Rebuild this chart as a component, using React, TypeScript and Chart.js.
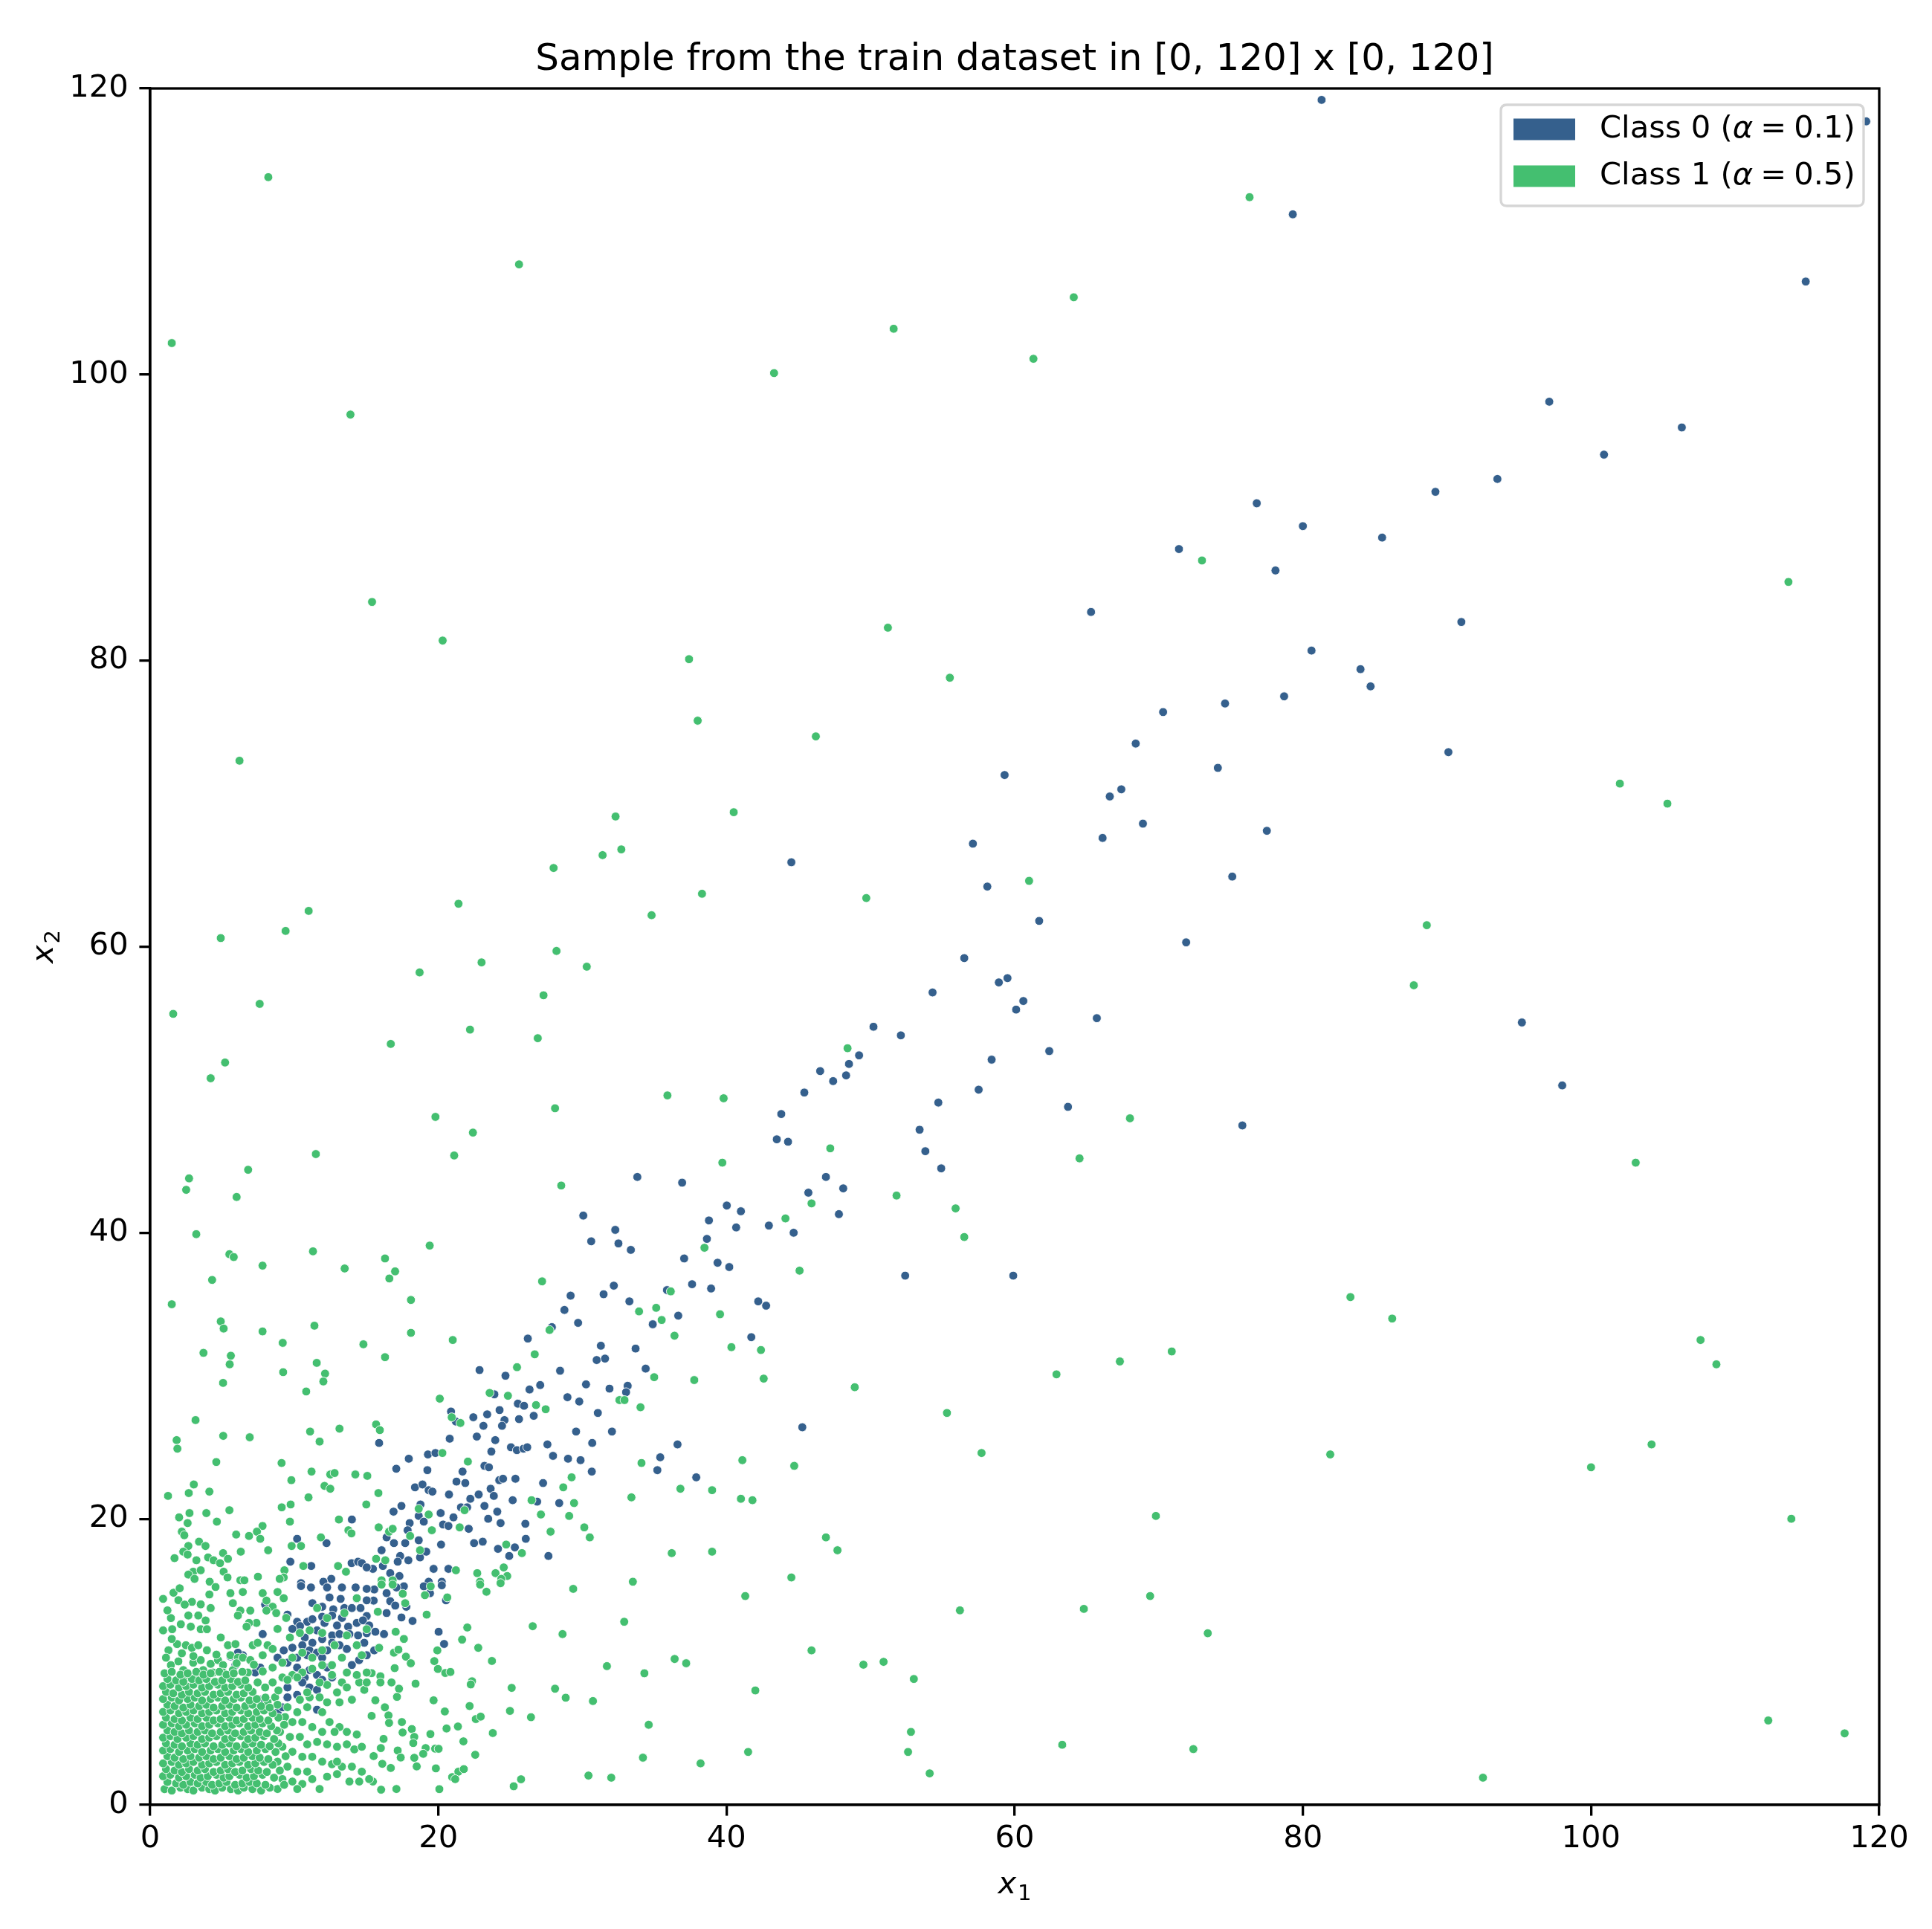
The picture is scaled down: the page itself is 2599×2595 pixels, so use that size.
import React, { useEffect, useRef } from 'react';
import { Chart, registerables } from 'chart.js';

Chart.register(...registerables);

// ---------- chart texts ----------
const chartTitle = 'Sample from the train dataset in [0, 120] x [0, 120]';
const classLabels = ['Class 0', 'Class 1'];
const classAlphas = ['0.1', '0.5'];
const classColors = ['#35608d', '#44bf70'];
const xTickValues = [0, 20, 40, 60, 80, 100, 120];
const yTickValues = [0, 20, 40, 60, 80, 100, 120];

// ---------- Class 0 points [x1, x2] ----------
const class0Upper: number[][] = [
  [81.3,119.2],[119.1,117.7],[79.3,111.2],[114.9,106.5],[97.1,98.1],[106.3,96.3],[100.9,94.4],[93.5,92.7],
  [89.2,91.8],[76.8,91.0],[80.0,89.4],[85.5,88.6],[71.4,87.8],[78.1,86.3],[65.3,83.4],[91.0,82.7],[80.6,80.7],
  [84.0,79.4],[84.7,78.2],[78.7,77.5],[74.6,77.0],[70.3,76.4],[68.4,74.2],[90.1,73.6],[59.3,72.0],[74.1,72.5],
  [67.4,71.0],[66.6,70.5],[77.5,68.1],[68.9,68.6],[66.1,67.6],[57.1,67.2],[44.5,65.9],[75.1,64.9],[58.1,64.2],
  [61.7,61.8],[71.9,60.3],[56.5,59.2],[58.9,57.5],[59.5,57.8],[60.6,56.2],[60.1,55.6],[54.3,56.8],[95.2,54.7],
  [65.7,55.0],[50.2,54.4],[52.1,53.8],[62.4,52.7],[58.4,52.1],[49.2,52.4],[48.5,51.8],[46.5,51.3],[48.3,51.0],
  [47.4,50.6],[98.0,50.3],[57.5,50.0],[45.4,49.8],[54.7,49.1],[63.7,48.8],[75.8,47.5],[53.4,47.2],[53.8,45.7],
  [54.9,44.5],[43.8,48.3],[46.9,43.9],[48.1,43.1],[47.8,41.3],[52.4,37.0],[59.9,37.0],[35.4,24.3],[35.2,23.4],
  [37.9,22.9],[36.6,25.2],
];
const class0Mid: number[][] = [
  [43.49,46.53],[44.27,46.36],[33.81,43.9],[36.92,43.5],[45.68,42.8],[30.06,41.2],[40.02,41.9],[41.0,41.5],
  [38.78,40.86],[40.67,40.37],[42.94,40.5],[44.66,40.0],[32.28,40.2],[32.5,39.25],[33.36,38.8],[30.61,39.4],
  [38.64,39.57],[37.06,38.2],[39.38,37.9],[40.19,37.6],[32.18,36.3],[31.47,35.7],[29.18,35.6],[28.75,34.6],
  [29.7,33.7],[37.61,36.4],[38.93,36.1],[35.87,35.99],[42.2,35.2],[42.75,34.9],[33.26,35.2],[36.65,34.2],
  [34.88,33.6],[41.72,32.7],[27.88,33.4],[26.21,32.6],[31.28,32.1],[30.99,31.1],[31.57,31.2],[33.69,31.9],
  [34.39,30.5],[31.88,29.1],[33.14,29.3],[33.03,28.85],[31.07,27.4],[32.05,26.1],[45.26,26.4],
];
const class0Band: number[][] = [
  [22.86,30.4],[24.66,30.0],[28.45,30.35],[27.07,29.35],[26.33,29.04],[30.25,29.4],[23.89,28.7],[28.96,28.5],
  [29.78,28.2],[25.52,28.05],[25.95,27.9],[20.88,27.5],[22.43,27.1],[23.39,27.3],[24.25,27.6],[25.6,26.97],
  [26.62,27.2],[24.59,26.9],[24.42,26.5],[23.13,26.5],[21.22,26.8],[15.89,25.3],[20.79,25.6],[22.67,25.75],
  [23.95,25.5],[27.57,25.2],[30.68,25.3],[29.56,26.1],[25.04,25.0],[25.45,24.8],[25.91,24.9],[26.17,25.0],
  [23.68,24.7],[17.95,24.2],[19.28,24.5],[19.8,24.6],[27.96,24.4],[29.0,24.2],[29.87,24.1],[17.08,23.5],
  [19.24,23.4],[23.2,23.7],[23.51,23.6],[21.68,23.3],[30.65,23.3],[21.26,22.6],[21.87,22.5],[24.23,22.7],
  [24.49,22.8],[25.35,22.8],[27.27,22.5],[18.38,22.2],[18.9,22.4],[19.33,22.0],[19.59,21.9],[20.74,21.7],
  [23.63,22.1],[23.85,21.6],[22.8,21.7],[22.22,21.4],[25.16,21.3],[26.86,21.2],[28.39,21.1],[17.44,20.9],
  [16.89,20.5],[18.76,21.0],[18.64,20.2],[20.16,20.4],[21.57,20.8],[22.0,20.8],[23.2,20.9],[24.09,20.5],
  [21.05,20.1],[23.46,20.0],[24.32,19.7],[18.99,19.8],[18.01,19.7],[17.87,19.2],[20.33,19.6],[20.7,19.5],
  [22.11,19.3],[26.04,19.65],[26.07,18.6],[16.41,18.7],[16.92,18.3],[17.7,18.3],[18.64,18.5],[20.19,18.2],
  [22.48,18.3],[23.08,18.4],[24.14,17.9],[25.31,18.0],[24.92,17.4],[27.64,17.4],[16.06,17.8],[17.35,17.4],
  [17.92,17.1],[18.73,17.3],[19.16,17.7],[19.67,16.5],[20.7,16.5],[15.46,16.5],[16.15,16.7],[17.18,17.0],
  [16.66,16.2],[17.3,16.0],[20.24,15.6],[19.33,15.6],
];
const class0Low: number[][] = [
  [18.99,15.28],[19.42,14.8],[20.24,15.35],[17.61,15.28],[17.09,15.2],[16.41,14.8],[15.55,15.06],[16.66,14.24],
  [17.01,13.93],[15.51,14.28],[16.41,13.41],[17.44,13.1],[18.21,12.86],[20.02,12.1],[20.4,11.25],[16.23,11.94],
  [15.63,12.1],[20.53,14.3],[17.78,13.85],[15.55,10.8],
  [14.0,19.95],[10.2,18.6],[12.24,18.3],[9.73,17.0],[11.18,16.7],[13.98,16.9],[14.43,17.0],[14.69,16.9],
  [15.03,16.6],[12.57,15.8],[12.02,15.6],[10.47,15.5],
];
const class0Core: number[][] = [
  [10.47,15.3],[11.16,15.2],[12.28,15.2],[13.31,15.2],[14.26,15.2],[15.03,15.1],[12.45,14.5],[13.22,14.4],
  [14.34,14.4],[15.03,14.3],[11.26,14.1],[11.94,13.85],[12.71,13.67],[13.48,13.76],[14.0,13.76],[14.6,13.76],
  [15.03,13.2],[7.98,14.0],[9.53,13.3],[10.2,12.8],[10.9,12.8],[10.4,12.5],[11.26,12.98],[11.94,13.15],
  [12.63,13.24],[13.31,13.07],[12.97,12.54],[13.74,12.46],[14.34,12.72],[14.77,12.9],[15.2,12.54],[7.81,11.94],
  [9.87,12.3],[10.73,11.7],[11.26,11.33],[11.94,11.59],[12.63,11.85],[13.14,11.94],[13.83,11.94],[14.43,11.85],
  [14.86,11.33],[15.03,12.0],[9.27,10.8],[9.87,10.99],[10.56,11.16],[11.06,10.8],[11.58,10.64],[12.28,10.8],
  [12.63,11.33],[13.14,11.16],[13.65,10.9],[15.03,10.46],[8.84,10.29],[9.53,9.94],[10.2,10.29],[10.9,10.46],
  [11.94,10.29],[12.28,9.6],[14.0,9.78],[14.5,10.12],[7.29,9.25],[6.43,10.46],[7.64,9.6],[10.2,9.6],
  [10.73,8.91],[11.06,9.43],[11.58,9.08],[11.94,8.74],[12.63,8.91],[10.56,8.56],[11.06,8.21],[11.58,8.04],
  [7.12,7.86],[7.64,7.34],[8.15,6.82],[8.84,6.48],[9.18,6.82],[11.58,6.65],[9.53,7.52],[10.2,7.69],
  [9.53,8.21],[6.09,10.64],[5.57,10.38],[5.92,9.78],[11.58,12.2],[12.1,12.72],
];

// ---------- Class 1 points [x1, x2] ----------
const class1Far: number[][] = [
  [8.2,113.8],[76.3,112.4],[25.6,107.7],[64.1,105.4],[51.6,103.2],[1.5,102.2],[43.3,100.1],[61.3,101.1],
  [13.9,97.2],[73.0,87.0],[15.4,84.1],[113.7,85.5],[51.2,82.3],[20.3,81.4],[37.4,80.1],[55.5,78.8],[38.0,75.8],
  [46.2,74.7],[6.2,73.0],[102.0,71.4],[105.3,70.0],[40.5,69.4],[32.3,69.1],[31.4,66.4],[32.7,66.8],[28.0,65.5],
  [61.0,64.6],[38.3,63.7],[49.7,63.4],[11.0,62.5],[21.4,63.0],[34.8,62.2],[88.6,61.5],[9.4,61.1],[4.9,60.6],
  [23.0,58.9],[28.2,59.7],[30.3,58.6],[18.7,58.2],[87.7,57.3],[27.3,56.6],[7.6,56.0],[1.6,55.3],[22.2,54.2],
  [26.9,53.6],[16.7,53.2],[48.4,52.9],[5.2,51.9],[4.2,50.8],[35.9,49.6],[39.8,49.4],[19.8,48.1],[28.1,48.7],
  [68.0,48.0],[22.4,47.0],[47.2,45.9],[11.5,45.5],[21.1,45.4],[64.5,45.2],[103.1,44.9],[6.8,44.4],[2.7,43.8],
  [2.5,43.0],[6.0,42.5],[51.8,42.6],[3.2,39.9],[55.9,41.7],[19.4,39.1],[56.5,39.7],[5.5,38.5],[5.8,38.3],
  [11.3,38.7],[7.8,37.7],[13.5,37.5],[16.3,38.2],[17.0,37.3],[16.6,36.8],[4.3,36.7],[83.3,35.5],[18.1,35.3],
  [1.5,35.0],[86.2,34.0],[4.9,33.8],[5.1,33.3],[11.4,33.5],[7.8,33.1],[18.1,33.0],[21.0,32.5],[107.6,32.5],
  [9.2,32.3],[14.8,32.2],[70.9,31.7],[3.7,31.6],[5.6,31.4],[16.3,31.3],[67.3,31.0],[108.7,30.8],[48.9,29.2],
  [55.3,27.4],[81.9,24.5],[57.7,24.6],[100.0,23.6],[113.9,20.0],[69.8,20.2],[46.9,18.7],[47.7,17.8],[69.4,14.6],
  [64.8,13.7],[56.2,13.6],[73.4,12.0],[50.9,10.0],[49.5,9.8],[53.0,8.8],[112.3,5.9],[117.6,5.0],[52.8,5.1],
  [63.3,4.2],[72.4,3.9],[52.6,3.7],[54.1,2.2],[92.5,1.9],[104.2,25.2],[62.9,30.1],
  [41.1,24.1],[44.7,23.7],[36.8,22.1],[39.0,22.0],[41.0,21.4],[41.8,21.3],[33.4,21.5],[39.0,17.7],[36.2,17.6],
  [44.5,15.9],[33.5,15.6],[41.3,14.6],[32.9,12.8],[45.9,10.8],[36.4,10.2],[37.2,9.9],[31.7,9.7],[34.3,9.2],
  [42.0,8.0],[34.6,5.6],[41.5,3.7],[34.2,3.3],[38.2,2.9],[32.0,1.9],[34.1,23.9],
];
const class1Mid: number[][] = [
  [39.71,44.9],[28.53,43.3],[45.9,42.05],[44.09,41.0],[38.47,38.95],[45.07,37.35],[27.2,36.6],[36.13,35.9],
  [33.93,34.5],[35.12,34.75],[35.5,33.9],[39.55,34.3],[36.39,32.8],[40.34,32.0],[42.39,31.8],[42.58,29.8],
  [27.72,33.2],[26.69,31.5],[34.98,29.9],[37.76,29.7],[32.57,28.3],[32.92,28.3],[34.03,27.8],
];
const class1Band: number[][] = [
  [25.46,30.6],[20.1,28.4],[23.56,28.8],[24.83,28.6],[26.78,27.95],[27.45,27.66],[20.93,27.1],[21.53,26.7],
  [15.68,26.6],[15.94,26.2],[20.28,24.6],[22.05,24.0],[15.84,21.8],[26.47,21.3],[29.25,22.9],[28.67,22.2],
  [29.42,21.1],[18.64,20.7],[19.33,20.3],[21.82,20.6],[27.12,20.3],[29.08,20.2],[15.86,19.4],[16.58,19.1],
  [16.83,19.3],[19.55,19.2],[21.48,19.4],[18.04,18.8],[27.79,19.1],[30.13,19.4],[30.51,18.7],[18.73,17.8],
  [15.68,17.2],[16.32,17.1],[24.71,18.2],[25.8,17.6],[21.22,16.4],[22.7,16.2],[23.97,16.2],[24.54,16.6],
  [24.78,16.0],[24.37,15.8],[16.06,15.7],[16.83,15.7],[22.89,15.6],
];
const class1Left: number[][] = [
  [5.52,30.8],[5.06,29.5],[9.23,30.25],[11.56,30.9],[12.14,30.15],[12.02,29.6],[10.83,28.9],[3.15,26.9],
  [1.84,25.5],[1.89,24.9],[5.07,25.8],[6.91,25.7],[4.59,23.97],[11.1,26.1],[11.76,25.4],[13.14,26.3],
  [9.12,23.9],[11.2,23.3],[9.8,22.7],[12.5,23.1],[12.8,23.2],[12.1,22.3],[12.5,22.1],[14.24,23.1],[15.07,23.0],
  [3.03,22.4],[2.68,21.8],[4.11,21.9],[1.24,21.6],[9.13,20.8],[9.75,21.0],[10.99,21.5],[15.0,21.0],[2.01,20.1],
  [2.73,20.4],[3.9,20.4],[5.5,20.6],[2.6,19.7],[4.63,19.8],[9.7,19.8],[13.1,19.95],[2.2,19.1],[2.37,18.85],
  [7.8,19.5],[7.41,19.1],[7.64,18.6],[5.97,18.9],[6.86,18.8],[13.76,19.2],[13.97,18.98],[11.85,18.7],
  [9.82,18.1],[10.47,18.1],[3.39,18.4],[3.84,18.1],[2.65,18.1],[2.3,17.7],[2.6,17.5],[6.29,17.7],[8.19,17.8],
  [1.69,17.25],[3.21,17.1],[4.02,17.3],[4.4,17.1],[4.85,16.9],[5.06,17.6],[5.4,17.2],[10.63,16.7],[13.04,16.7],
  [13.59,16.3],[9.32,16.4],[9.27,15.9],[2.99,16.3],[2.65,16.1],[3.51,16.4],[3.08,15.8],[5.1,16.3],[5.37,15.9],
  [7.48,15.95],[8.99,15.8],[4.13,15.6],[6.26,15.7],[6.54,15.7],
];
const class1Lower: number[][] = [
  [16.06,15.4],[16.83,15.4],[17.53,14.76],[19.07,14.66],[19.47,15.28],[20.62,14.5],[17.7,14.1],[15.8,13.5],
  [19.19,13.3],[22.9,15.4],[23.34,14.9],[24.32,15.5],[29.36,15.1],[26.55,12.49],[28.62,11.94],[22.01,12.4],
  [17.04,12.1],[17.61,11.6],[21.65,11.55],[22.77,10.98],[23.72,10.06],[15.89,10.98],[16.92,10.64],[17.23,10.85],
  [17.75,10.36],[18.09,9.9],[19.93,10.8],[19.72,10.05],[19.97,9.5],[20.48,9.22],[20.84,9.29],[16.97,9.56],
  [15.98,8.99],[15.37,9.21],[15.98,8.56],[16.75,8.56],[17.27,8.12],[17.13,7.55],[18.42,8.47],[22.34,8.64],
  [22.25,8.42],[25.09,8.18],[28.1,8.12],[28.84,7.49],[30.73,7.26],[15.63,7.31],[19.67,7.31],[16.29,6.82],
  [16.54,6.25],[16.58,5.73],[15.37,6.22],[20.45,6.53],[22.17,6.91],[22.6,6.0],[22.94,6.17],[24.97,6.57],
  [26.43,6.13],[17.47,5.79],[18.16,5.3],[17.52,5.06],[18.33,4.75],[18.26,4.32],[19.45,4.95],[20.57,5.34],
  [21.36,5.48],[23.78,5.02],[16.2,4.61],[16.01,3.97],[15.51,3.41],[17.18,3.8],[17.39,3.31],[19.12,3.97],
  [19.78,3.93],[20.02,3.92],[18.95,3.57],[18.33,3.29],[18.5,2.69],[21.74,4.44],[22.56,3.5],[16.11,2.87],
  [16.7,2.58],[19.83,2.55],[20.96,1.94],[21.39,2.32],[21.77,2.5],[21.17,1.8],[15.46,1.63],[16.03,1.06],
  [17.09,1.11],[20.07,1.1],[25.23,1.3],[25.74,1.79],[30.42,2.05],
];
const class1Fringe: number[][] = [
  [1.62,14.83],[2.05,15.14],[1.96,14.31],[2.9,14.19],[3.51,14.02],[4.11,14.71],[4.2,13.76],[4.54,15.23],
  [5.57,14.8],[5.74,14.1],[6.43,14.88],[6.26,13.58],[6.09,13.24],[6.95,13.58],[7.38,12.72],[6.86,12.72],
  [6.69,12.46],[7.81,14.8],[8.07,14.28],[8.5,13.85],[8.75,13.41],[8.84,14.88],[9.27,14.45],[9.44,13.07],
  [9.7,11.7],[8.84,12.3],[8.07,13.58],
  [1.44,13.06],[2.13,12.63],[2.65,13.24],[3.34,13.24],[3.85,12.89],[3.51,12.28],[2.82,12.46],[3.94,12.28],
  [1.53,12.28],[1.87,11.24],[2.48,11.16],[2.9,10.98],[3.34,11.16],[3.94,10.81],[1.27,10.81],[1.1,10.29],
  [1.44,9.77],[1.96,10.03],[2.3,9.42],[2.99,9.94],[3.51,10.12],[4.2,9.86],[4.71,10.12],[5.06,9.77],[5.4,11.16],
  [5.92,11.24],[5.57,10.46],[6.09,10.29],[6.43,10.29],[6.95,10.12],[7.12,11.16],[7.46,11.33],[8.15,11.16],
  [8.5,10.9],[7.81,10.46],[6.78,9.25],[5.74,9.42],[5.06,9.25],[4.37,9.25],[3.68,9.42],[3.16,8.91],[2.56,8.91],
  [1.96,8.82],[1.19,8.91],[7.81,9.33],[8.5,9.6],
  [9.18,8.91],[9.87,9.08],[10.56,9.25],[11.25,9.51],[11.94,9.77],[12.62,9.08],[13.31,8.56],[12.28,8.39],
  [12.97,7.86],[13.65,8.21],[14.51,8.56],[15.03,9.25],[14.86,8.04],[14.0,7.35],[13.14,7.17],[12.28,7.17],
  [11.76,7.52],[11.07,7.52],[10.39,7.35],[9.53,6.83],[10.21,6.48],[10.9,6.83],[11.94,6.48],[12.45,5.79],
  [13.14,5.44],[13.65,5.1],[14.34,4.92],[12.8,5.1],[11.94,5.1],[11.25,5.44],[10.56,5.79],[9.87,5.79],
  [9.36,6.14],[9.01,5.1],[9.7,4.75],[10.39,4.75],[10.9,4.23],[11.59,4.4],[12.28,4.23],[12.97,4.06],
  [13.65,4.23],[14.17,3.88],[14.69,4.06],[9.18,4.06],[9.87,3.71],[10.56,3.36],[11.25,3.36],[11.94,3.02],
  [12.62,2.84],[13.31,2.67],[14.0,2.67],[14.69,2.32],[14.51,1.63],[13.83,1.63],[12.97,2.15],[12.28,1.97],
  [11.76,1.11],[10.9,2.32],[10.21,2.32],[9.53,2.67],[8.84,3.02],[9.18,1.8],[9.87,1.63],[10.56,1.46],
  [11.25,1.8],[8.84,1.11],[10.21,1.11],[12.97,3.02],[15.2,1.8],
  [11.59,13.76],[12.28,13.06],[13.48,13.41],[14.34,14.45],[15.03,12.28],[11.07,12.2],[10.39,12.02],
  [11.94,12.02],[12.8,11.16],[13.65,11.85],[14.34,11.16],[14.69,10.46],[13.31,10.29],[12.62,9.77],
  [11.94,10.81],[11.25,10.29],[10.56,10.64],[9.87,10.29],[9.18,9.94],[9.53,8.74],[10.21,8.91],[10.9,7.86],
  [11.76,8.56],[13.65,9.25],[14.34,9.08],[15.03,8.56],[8.5,8.56],[7.98,8.21],[7.46,8.56],[8.67,7.52],
  [8.15,7.17],[7.64,6.83],[8.84,7.0],
  [9.3,1.4],[9.0,2.4],[9.4,3.4],[8.9,4.3],[9.3,5.6],[8.9,8.0],[7.2,9.8],[6.0,9.9],[4.6,10.5],[3.0,10.4],
  [2.2,10.6],[1.5,11.6],[4.9,11.7],[0.9,12.2],[1.2,13.6],[2.4,14.0],[0.9,14.4],
];
const class1Core: number[][] = [
  [1.0,1.1],[1.5,1.0],[2.1,1.2],[2.6,1.1],[3.0,1.0],[3.6,1.2],[4.1,1.1],[4.5,1.0],[5.0,1.2],[5.6,1.1],[6.1,1.0],[6.5,1.2],[7.1,1.1],[7.7,1.0],[8.3,1.2],
  [1.2,1.6],[1.8,1.5],[2.3,1.4],[2.8,1.6],[3.3,1.5],[3.9,1.6],[4.3,1.4],[4.8,1.5],[5.3,1.6],[5.9,1.4],[6.4,1.5],[6.9,1.6],[7.4,1.5],[8.0,1.4],
  [0.9,2.0],[1.4,2.1],[2.0,1.9],[2.5,2.0],[3.1,2.1],[3.5,1.9],[4.0,2.0],[4.6,2.1],[5.1,1.9],[5.5,2.0],[6.2,2.1],[6.7,1.9],[7.2,2.0],[7.8,2.1],[8.6,1.9],
  [1.1,2.5],[1.7,2.4],[2.2,2.3],[2.7,2.5],[3.3,2.4],[3.8,2.5],[4.4,2.3],[4.9,2.4],[5.4,2.5],[5.9,2.3],[6.4,2.4],[7.0,2.5],[7.5,2.4],[8.1,2.3],
  [0.9,2.9],[1.5,3.0],[2.0,2.8],[2.5,2.9],[3.0,3.0],[3.6,2.8],[4.1,2.9],[4.6,3.0],[5.2,2.8],[5.7,2.9],[6.2,3.0],[6.8,2.8],[7.3,2.9],[7.9,3.0],[8.5,2.8],
  [1.2,3.4],[1.7,3.3],[2.3,3.2],[2.8,3.4],[3.4,3.3],[3.9,3.4],[4.4,3.2],[4.9,3.3],[5.5,3.4],[6.0,3.2],[6.5,3.3],[7.1,3.4],[7.6,3.3],[8.2,3.2],
  [0.9,3.8],[1.4,3.9],[2.0,3.7],[2.6,3.8],[3.1,3.9],[3.6,3.7],[4.2,3.8],[4.7,3.9],[5.2,3.7],[5.8,3.8],[6.3,3.9],[6.8,3.7],[7.4,3.8],[8.0,3.9],[8.7,3.7],
  [1.1,4.3],[1.7,4.2],[2.2,4.1],[2.8,4.3],[3.3,4.2],[3.8,4.3],[4.4,4.1],[5.0,4.2],[5.5,4.3],[6.0,4.1],[6.6,4.2],[7.1,4.3],[7.7,4.2],[8.3,4.1],
  [0.9,4.7],[1.4,4.8],[1.9,4.6],[2.5,4.7],[3.0,4.8],[3.6,4.6],[4.1,4.7],[4.6,4.8],[5.2,4.6],[5.7,4.7],[6.3,4.8],[6.8,4.6],[7.3,4.7],[7.9,4.8],[8.6,4.6],
  [1.2,5.2],[1.7,5.1],[2.2,5.0],[2.7,5.2],[3.3,5.1],[3.8,5.2],[4.3,5.0],[4.9,5.1],[5.4,5.2],[5.9,5.0],[6.5,5.1],[7.0,5.2],[7.6,5.1],[8.1,5.0],[8.8,5.2],
  [0.9,5.6],[1.5,5.7],[2.0,5.5],[2.5,5.6],[3.1,5.7],[3.6,5.5],[4.1,5.6],[4.7,5.7],[5.2,5.5],[5.7,5.6],[6.2,5.7],[6.8,5.5],[7.3,5.6],[7.8,5.7],[8.4,5.5],
  [1.1,6.1],[1.7,6.0],[2.2,5.9],[2.8,6.1],[3.3,6.0],[3.9,6.1],[4.4,5.9],[4.9,6.0],[5.5,6.1],[6.0,5.9],[6.5,6.0],[7.1,6.1],[7.6,6.0],[8.2,5.9],[8.9,6.1],
  [0.9,6.5],[1.4,6.6],[2.0,6.4],[2.5,6.5],[3.0,6.6],[3.6,6.4],[4.1,6.5],[4.6,6.6],[5.2,6.4],[5.7,6.5],[6.3,6.6],[6.8,6.4],[7.4,6.5],[7.9,6.6],[8.5,6.4],
  [1.2,7.0],[1.7,6.9],[2.3,6.8],[2.8,7.0],[3.4,6.9],[3.9,7.0],[4.4,6.8],[5.0,6.9],[5.5,7.0],[6.0,6.8],[6.6,6.9],[7.1,7.0],[7.7,6.9],[8.3,6.8],
  [0.9,7.4],[1.5,7.5],[2.0,7.3],[2.6,7.4],[3.1,7.5],[3.6,7.3],[4.2,7.4],[4.7,7.5],[5.2,7.3],[5.8,7.4],[6.3,7.5],[6.9,7.3],[7.4,7.4],[8.0,7.5],
  [1.1,7.9],[1.6,7.8],[2.2,7.7],[2.7,7.9],[3.3,7.8],[3.8,7.9],[4.4,7.7],[4.9,7.8],[5.4,7.9],[6.0,7.7],[6.5,7.8],[7.1,7.9],
  [0.9,8.3],[1.4,8.4],[2.0,8.2],[2.5,8.3],[3.0,8.4],[3.6,8.2],[4.1,8.3],[4.7,8.4],[5.2,8.2],[5.7,8.3],[6.3,8.4],[6.8,8.2],
  [1.2,8.8],[1.8,8.7],[2.3,8.6],[2.9,8.8],[3.4,8.7],[3.9,8.8],[4.5,8.6],[5.0,8.7],[5.6,8.8],[6.1,8.6],[6.6,8.7],
  [1.0,9.2],[1.5,9.3],[2.1,9.1],[2.6,9.2],[3.2,9.3],[3.7,9.1],[4.2,9.2],[4.8,9.3],[5.3,9.1],[5.8,9.2],[6.4,9.3],
];

const class0Points = [...class0Upper, ...class0Mid, ...class0Band, ...class0Low, ...class0Core];
const class1Points = [...class1Far, ...class1Mid, ...class1Band, ...class1Left, ...class1Lower, ...class1Fringe, ...class1Core];

const FONT = '"DejaVu Sans", "Liberation Sans", sans-serif';
const TICK_SIZE = 41.67;
const TITLE_SIZE = 50;
const LINE_W = 3.3;

const decorPlugin = {
  id: 'decor',
  afterDatasetsDraw(chart: any) {
    const { ctx, chartArea: a } = chart;
    ctx.save();
    // spines
    ctx.strokeStyle = '#000';
    ctx.lineWidth = LINE_W;
    ctx.strokeRect(a.left, a.top, a.right - a.left, a.bottom - a.top);

    // legend
    const bx0 = a.right - 21;
    const by0 = a.top + 22;
    const bw = 488;
    const bh = 136;
    const bx = bx0 - bw;
    const r = 8;
    ctx.beginPath();
    ctx.moveTo(bx + r, by0);
    ctx.lineTo(bx + bw - r, by0);
    ctx.quadraticCurveTo(bx + bw, by0, bx + bw, by0 + r);
    ctx.lineTo(bx + bw, by0 + bh - r);
    ctx.quadraticCurveTo(bx + bw, by0 + bh, bx + bw - r, by0 + bh);
    ctx.lineTo(bx + r, by0 + bh);
    ctx.quadraticCurveTo(bx, by0 + bh, bx, by0 + bh - r);
    ctx.lineTo(bx, by0 + r);
    ctx.quadraticCurveTo(bx, by0, bx + r, by0);
    ctx.closePath();
    ctx.fillStyle = 'rgba(255,255,255,0.8)';
    ctx.fill();
    ctx.strokeStyle = '#d6d6d6';
    ctx.lineWidth = LINE_W;
    ctx.stroke();

    const regular = `${TICK_SIZE}px ${FONT}`;
    const italic = `italic ${TICK_SIZE}px ${FONT}`;
    ctx.textBaseline = 'middle';
    ctx.textAlign = 'left';
    for (let i = 0; i < classLabels.length; i++) {
      const cy = by0 + 33 + i * 63;
      ctx.fillStyle = classColors[i];
      ctx.fillRect(bx + 17, cy - 14.5, 83, 29);
      let tx = bx + 133;
      ctx.fillStyle = '#000';
      const parts: [string, string][] = [
        [`${classLabels[i]} (`, regular],
        ['α', italic],
        ['=', regular],
        [`${classAlphas[i]})`, regular],
      ];
      const gap = TICK_SIZE * 0.24;
      parts.forEach(([t, f], k) => {
        ctx.font = f;
        if (k === 2 || k === 3) tx += gap;
        ctx.fillText(t, tx, cy);
        tx += ctx.measureText(t).width;
      });
    }
    ctx.restore();
  },
  afterDraw(chart: any) {
    const { ctx, chartArea: a } = chart;
    ctx.save();
    ctx.fillStyle = '#000';
    // title
    ctx.font = `${TITLE_SIZE}px ${FONT}`;
    ctx.textAlign = 'center';
    ctx.textBaseline = 'alphabetic';
    const cx = (a.left + a.right) / 2;
    ctx.fillText(chartTitle, cx, a.top - 25);

    // axis labels x_1 and x_2 (mathtext-like)
    const drawSub = (sub: string) => {
      ctx.font = `italic ${TICK_SIZE}px ${FONT}`;
      const w1 = ctx.measureText('x').width;
      ctx.font = `${TICK_SIZE * 0.7}px ${FONT}`;
      const w2 = ctx.measureText(sub).width;
      const total = w1 + w2 + 2;
      ctx.textAlign = 'left';
      ctx.textBaseline = 'alphabetic';
      ctx.font = `italic ${TICK_SIZE}px ${FONT}`;
      ctx.fillText('x', -total / 2, 0);
      ctx.font = `${TICK_SIZE * 0.7}px ${FONT}`;
      ctx.fillText(sub, -total / 2 + w1 + 2, TICK_SIZE * 0.22);
    };
    ctx.save();
    ctx.translate(cx, a.bottom + 119);
    drawSub('1');
    ctx.restore();

    ctx.save();
    ctx.translate(a.left - 131, (a.top + a.bottom) / 2);
    ctx.rotate(-Math.PI / 2);
    drawSub('2');
    ctx.restore();

    ctx.restore();
  },
};

export default function App() {
  const ref = useRef<HTMLCanvasElement>(null);
  useEffect(() => {
    document.body.style.margin = '0';
    const canvas = ref.current;
    if (!canvas) return;
    const toPts = (arr: number[][]) => arr.map(([x, y]) => ({ x, y }));
    const tickFont = { family: FONT, size: TICK_SIZE };
    const chart = new Chart(canvas, {
      type: 'scatter',
      data: {
        datasets: [
          {
            label: classLabels[0],
            data: toPts(class0Points),
            backgroundColor: classColors[0],
            borderColor: '#ffffff',
            borderWidth: 0.9,
            pointRadius: 5.9,
            pointHoverRadius: 5.9,
            order: 1,
            clip: 0,
          },
          {
            label: classLabels[1],
            data: toPts(class1Points),
            backgroundColor: classColors[1],
            borderColor: '#ffffff',
            borderWidth: 0.9,
            pointRadius: 5.9,
            pointHoverRadius: 5.9,
            order: 0,
            clip: 0,
          },
        ],
      },
      options: {
        animation: false,
        responsive: false,
        devicePixelRatio: 1,
        events: [],
        layout: { padding: { left: 0, right: 71, top: 119, bottom: 0 } },
        plugins: {
          legend: { display: false },
          tooltip: { enabled: false },
          title: { display: false },
        },
        scales: {
          x: {
            type: 'linear',
            min: 0,
            max: 120,
            afterFit: (s: any) => { s.height = 167; },
            afterBuildTicks: (s: any) => { s.ticks = xTickValues.map((v) => ({ value: v })); },
            ticks: { font: tickFont, color: '#000', padding: 7, maxRotation: 0 },
            grid: { drawOnChartArea: false, drawTicks: true, tickLength: 14.6, color: '#000', lineWidth: LINE_W },
            border: { display: true, color: '#000', width: LINE_W },
          },
          y: {
            type: 'linear',
            min: 0,
            max: 120,
            afterFit: (s: any) => { s.width = 202; },
            afterBuildTicks: (s: any) => { s.ticks = yTickValues.map((v) => ({ value: v })); },
            ticks: { font: tickFont, color: '#000', padding: 14.6 },
            grid: { drawOnChartArea: false, drawTicks: true, tickLength: 14.6, color: '#000', lineWidth: LINE_W },
            border: { display: true, color: '#000', width: LINE_W },
          },
        },
      },
      plugins: [decorPlugin],
    } as any);
    return () => chart.destroy();
  }, []);
  return (
    <canvas
      ref={ref}
      width={2599}
      height={2595}
      style={{ display: 'block', width: '2599px', height: '2595px' }}
    />
  );
}
